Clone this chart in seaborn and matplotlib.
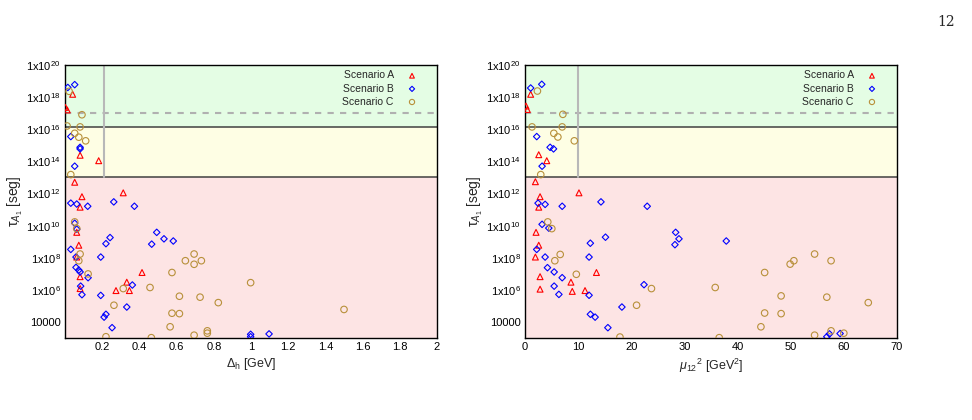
import numpy as np
import pandas as pd
import matplotlib
matplotlib.use('Agg')
import matplotlib.pyplot as plt
import seaborn as sns

# Scenario A (triangles), B (diamonds), C (circles)
dh_A = [0.041, 0.002, 0.012, 0.081, 0.181, 0.052, 0.091, 0.081, 0.313, 0.063, 0.074, 0.063,
        0.081, 0.081, 0.274, 0.332, 0.346, 0.414]
tau_dh_A = [1.5e18, 2.3e17, 1.6e17, 2.4e14, 1.1e14, 5e12, 6.3e11, 1.4e11, 1.1e12, 3.8e9, 6e8, 1.1e8,
            6.6e6, 1.2e6, 9e5, 3e6, 9e5, 1.2e7]

dh_B = [0.015, 0.052, 0.031, 0.081, 0.081, 0.052, 0.031, 0.063, 0.122, 0.262, 0.373, 0.052,
        0.063, 0.031, 0.059, 0.059, 0.074, 0.081, 0.124, 0.084, 0.091, 0.493, 0.466, 0.532,
        0.582, 0.220, 0.242, 0.192, 0.362, 0.192, 0.332, 0.220, 0.210, 0.253, 0.998, 0.998, 1.097]
tau_dh_B = [4e18, 6e18, 3.5e15, 7.5e14, 6e14, 5e13, 2.5e11, 2.2e11, 1.6e11, 3e11, 1.6e11, 1.4e10,
            6e9, 3.3e8, 1.1e8, 2.5e7, 1.7e7, 1.3e7, 5.7e6, 1.7e6, 5e5, 3.8e9, 7e8, 1.5e9,
            1.1e9, 7.5e8, 1.8e9, 1.1e8, 2e6, 4.5e5, 8.5e4, 3e4, 2e4, 4.4e3, 1.7e3, 1.2e3, 1.8e3]

dh_C = [0.022, 0.091, 0.011, 0.081, 0.052, 0.074, 0.111, 0.031, 0.052, 0.063, 0.081, 0.074,
        0.124, 0.313, 0.263, 0.220, 0.464, 0.457, 0.575, 0.647, 0.694, 0.694, 0.733, 0.615,
        0.726, 0.824, 0.575, 0.615, 0.565, 0.694, 0.765, 0.765, 0.998, 1.5]
tau_dh_C = [2.3e18, 8e16, 1.6e16, 1.4e16, 5.6e15, 3.2e15, 1.9e15, 1.5e13, 1.7e10, 6.5e9, 1.7e8, 6.5e7,
            9.8e6, 1.2e6, 1.1e5, 1.2e3, 1.05e3, 1.4e6, 1.2e7, 6.5e7, 1.7e8, 3.9e7, 6.5e7, 4e5,
            3.5e5, 1.6e5, 3.5e4, 3.3e4, 5e3, 1.5e3, 2.8e3, 2e3, 2.8e6, 6e4]

mu_A = [1.07, 0.19, 0.44, 2.59, 4.1, 1.96, 2.84, 2.59, 10.16, 2.08, 2.59, 1.96, 2.84, 2.84,
        8.65, 8.9, 11.3, 13.45]
tau_mu_A = [1.5e18, 2.8e17, 1.7e17, 2.6e14, 1.1e14, 5.4e12, 6.3e11, 1.4e11, 1.1e12, 3.8e9, 6e8,
            1.1e8, 6.6e6, 1.1e6, 3e6, 8e5, 9e5, 1.2e7]

mu_B = [1.07, 3.16, 2.21, 4.73, 5.37, 3.22, 2.46, 3.79, 7.0, 14.3, 23.0, 3.22, 4.48, 2.21,
        3.79, 4.23, 5.49, 7.0, 5.49, 6.38, 12.3, 12.06, 15.15, 28.35, 28.98, 28.22, 22.4, 12.06,
        18.24, 12.31, 13.2, 15.6, 37.88, 56.8, 57.3, 59.3]
tau_mu_B = [3.7e18, 6.3e18, 3.5e15, 7.5e14, 6e14, 5e13, 2.5e11, 2.1e11, 1.6e11, 3e11, 1.6e11,
            1.2e10, 7e9, 3.3e8, 1.1e8, 2.4e7, 1.3e7, 5.7e6, 1.7e6, 5.2e5, 8e8, 1.1e8, 1.9e9,
            3.8e9, 1.5e9, 6.5e8, 2.1e6, 4.6e5, 8.5e4, 3e4, 2e4, 4.4e3, 1.1e9, 1.2e3, 1.8e3, 1.9e3]

mu_C = [2.34, 7.13, 1.33, 7.0, 5.43, 6.19, 9.28, 2.97, 4.29, 5.05, 6.63, 5.62, 9.66, 23.8,
        21.0, 17.87, 35.8, 36.55, 45.1, 49.9, 50.6, 54.5, 57.6, 48.2, 56.8, 64.6, 45.1, 48.2,
        44.4, 54.5, 57.6, 60.0]
tau_mu_C = [2.4e18, 8.5e16, 1.4e16, 1.4e16, 5.6e15, 3.3e15, 1.9e15, 1.5e13, 1.7e10, 6.5e9,
            1.6e8, 6.5e7, 9.3e6, 1.2e6, 1.1e5, 1.15e3, 1.4e6, 1.05e3, 1.2e7, 4e7, 6.5e7, 1.7e8,
            6.5e7, 4.2e5, 3.5e5, 1.6e5, 3.6e4, 3.3e4, 5e3, 1.5e3, 2.8e3, 2e3]

scenarios = ['Scenario A', 'Scenario B', 'Scenario C']
colors = ['#ff0000', '#0000ff', '#b8903a']
markers = ['^', 'D', 'o']
sizes = [18, 11, 22]

ytick_vals = [1e4, 1e6, 1e8, 1e10, 1e12, 1e14, 1e16, 1e18, 1e20]
ytick_labels = ['10000', r'1x10$^{6}$', r'1x10$^{8}$', r'1x10$^{10}$', r'1x10$^{12}$',
                r'1x10$^{14}$', r'1x10$^{16}$', r'1x10$^{18}$', r'1x10$^{20}$']

sns.set_style('white')
plt.rcParams['font.family'] = ['Liberation Sans Narrow', 'Liberation Sans', 'DejaVu Sans']
plt.rcParams['mathtext.fontset'] = 'custom'
plt.rcParams['mathtext.rm'] = 'Liberation Sans'
plt.rcParams['mathtext.it'] = 'Liberation Sans:italic'

fig = plt.figure(figsize=(9.72, 4.2), dpi=100)
ax1 = fig.add_axes([0.0669, 0.1952, 0.3827, 0.65])
ax2 = fig.add_axes([0.5401, 0.1952, 0.3827, 0.65])


def panel(ax, xs, ts, xlim, xcut, xticks, xticklabels, xlabel):
    ax.set_yscale('log')
    ax.set_xlim(*xlim)
    ax.set_ylim(1e3, 1e20)
    ax.axhspan(1e3, 1e13, color='#fde4e4', zorder=0, lw=0)
    ax.axhspan(1e13, 1.45e16, color='#fefee4', zorder=0, lw=0)
    ax.axhspan(1.45e16, 1e20, color='#e4fde4', zorder=0, lw=0)
    ax.axhline(1e13, color='#404040', lw=1.1, zorder=1)
    ax.axhline(1.45e16, color='#404040', lw=1.1, zorder=1)
    ax.axhline(1e17, color='#b0b0b0', lw=1.5, ls=(0, (3, 3)), zorder=1)
    ax.plot([xcut, xcut], [1e13, 1e20], color='#b8b8b8', lw=1.5, zorder=1)
    for x, t, lab, c, m, s in zip(xs, ts, scenarios, colors, markers, sizes):
        df = pd.DataFrame({'x': x, 'tau': t})
        sns.scatterplot(data=df, x='x', y='tau', ax=ax, marker=m, s=s, facecolors='none',
                        edgecolor=c, linewidth=0.8, label=lab, zorder=3)
    ax.set_yticks(ytick_vals)
    ax.set_yticklabels(ytick_labels)
    ax.set_yticks([10.0 ** k for k in range(5, 20, 2)], minor=True)
    ax.yaxis.set_minor_formatter(matplotlib.ticker.NullFormatter())
    ax.set_xticks(xticks)
    ax.set_xticklabels(xticklabels)
    ax.tick_params(axis='both', which='major', direction='in', length=4, width=0.8,
                   labelsize=8, pad=3, colors='#333333', labelcolor='black')
    ax.tick_params(axis='y', which='minor', direction='in', length=2, width=0.8)
    ax.set_xlabel(xlabel, fontsize=9, labelpad=3)
    ax.set_ylabel('τ$_{A_1}$ [seg]', fontsize=10, labelpad=1)
    for sp in ax.spines.values():
        sp.set_color('black')
        sp.set_linewidth(1.0)
    ax.legend(loc='upper right', bbox_to_anchor=(0.944, 0.98), borderaxespad=0, borderpad=0,
              markerfirst=False, frameon=False, fontsize=7.5, handletextpad=1.35,
              labelspacing=0.3, handlelength=0.8, markerscale=0.8)


panel(ax1, [dh_A, dh_B, dh_C], [tau_dh_A, tau_dh_B, tau_dh_C], (0, 2), 0.21,
      [0.2, 0.4, 0.6, 0.8, 1.0, 1.2, 1.4, 1.6, 1.8, 2.0],
      ['0.2', '0.4', '0.6', '0.8', '1', '1.2', '1.4', '1.6', '1.8', '2'],
      r'$\Delta_{\mathrm{h}}$ [GeV]')
panel(ax2, [mu_A, mu_B, mu_C], [tau_mu_A, tau_mu_B, tau_mu_C], (0, 70), 10,
      [0, 10, 20, 30, 40, 50, 60, 70], ['0', '10', '20', '30', '40', '50', '60', '70'],
      r'$\mu_{12}$$^2$ [GeV$^2$]')

fig.text(0.982, 0.965, '12', ha='right', va='top', fontsize=10, family='DejaVu Serif')

fig.savefig('out.png', dpi=100)
